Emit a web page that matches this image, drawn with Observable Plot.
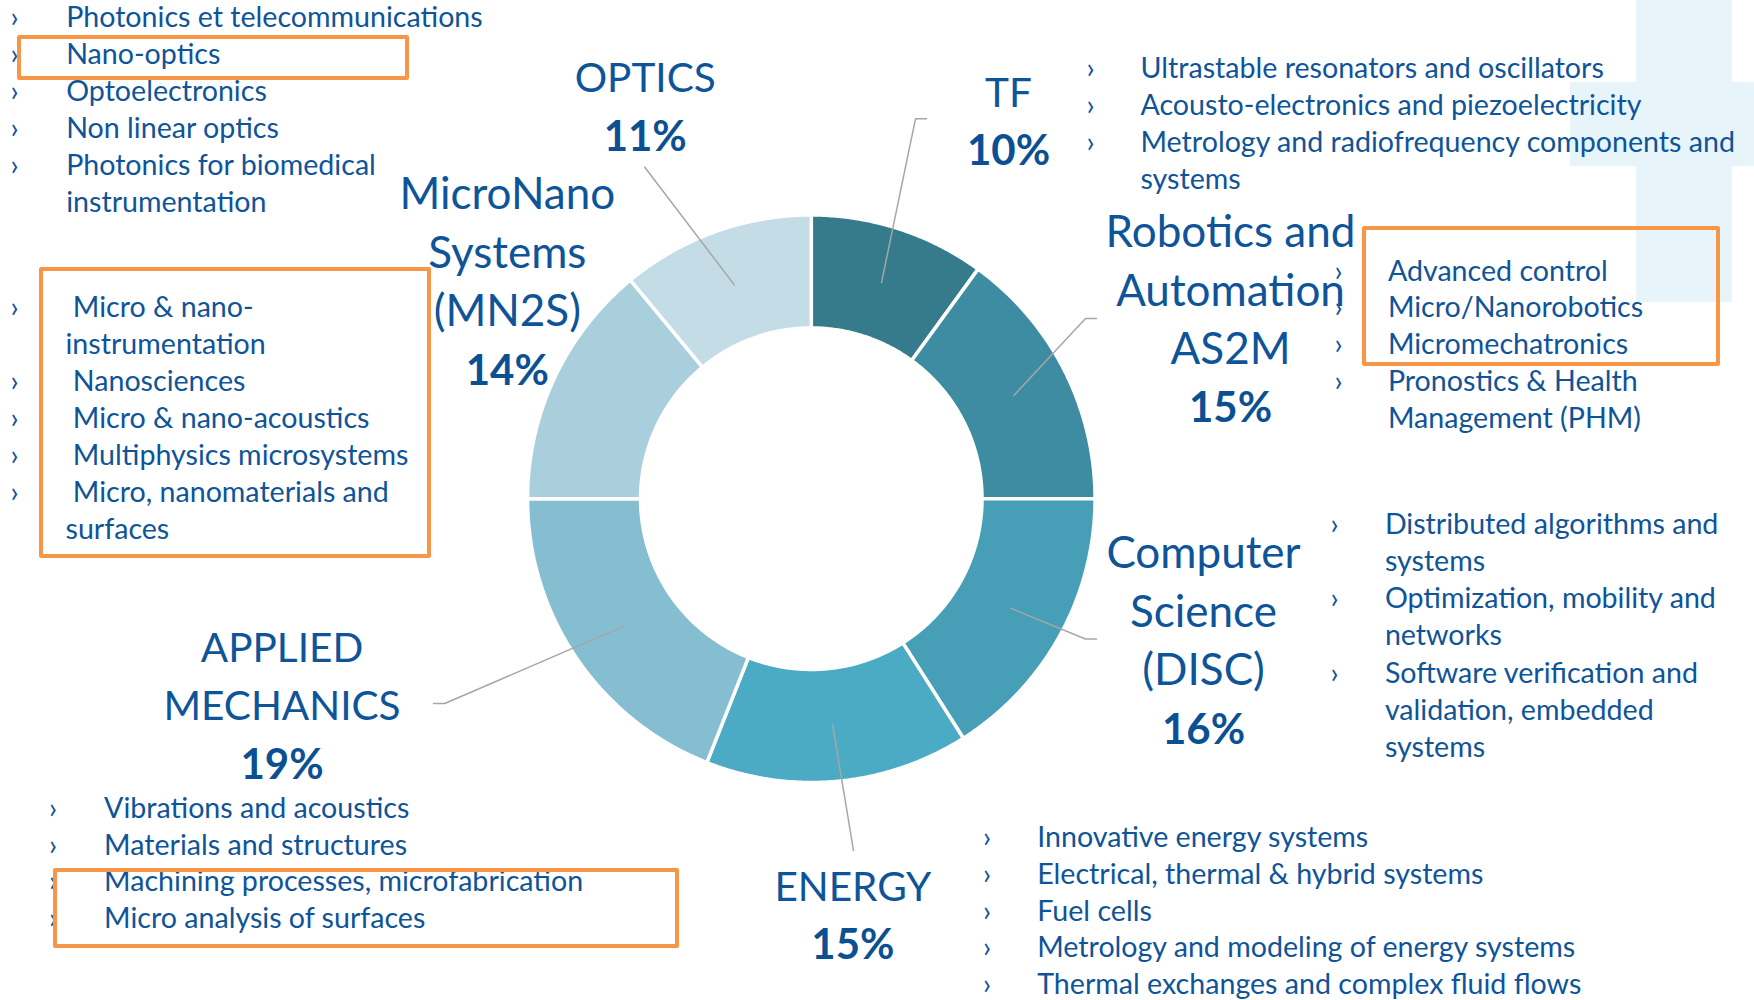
<!DOCTYPE html>
<html><head><meta charset="utf-8">
<script src="https://cdn.jsdelivr.net/npm/d3@7"></script>
<script src="https://cdn.jsdelivr.net/npm/@observablehq/plot@0.6"></script>
<style>
html,body{margin:0;padding:0;background:#fff;}
#wrap{position:relative;width:1754px;height:1000px;overflow:hidden;font-family:Lato,sans-serif;}
.deco{position:absolute;background:#e7f5fa;}
.box{position:absolute;border:4px solid #f79646;box-sizing:border-box;border-radius:2px;}
#chart{position:absolute;left:0;top:0;}
</style></head><body><div id="wrap"></div>
<script>
// ---------------- DATA ----------------
const categories = ["TF", "AS2M", "DISC", "ENERGY", "APPLIED MECHANICS", "MN2S", "OPTICS"];
const shares = [10, 15, 16, 15, 19, 14, 11];
const titles = [
  ["TF"],
  ["Robotics and", "Automation", "AS2M"],
  ["Computer", "Science", "(DISC)"],
  ["ENERGY"],
  ["APPLIED", "MECHANICS"],
  ["MicroNano", "Systems", "(MN2S)"],
  ["OPTICS"]
];
const topicsTF = [["Ultrastable resonators and oscillators"], ["Acousto-electronics and piezoelectricity"], ["Metrology and radiofrequency components and", "systems"]];
const topicsAS2M = [["Advanced control"], ["Micro/Nanorobotics"], ["Micromechatronics"], ["Pronostics & Health", "Management (PHM)"]];
const topicsDISC = [["Distributed algorithms and", "systems"], ["Optimization, mobility and", "networks"], ["Software verification and", "validation, embedded", "systems"]];
const topicsENERGY = [["Innovative energy systems"], ["Electrical, thermal & hybrid systems"], ["Fuel cells"], ["Metrology and modeling of energy systems"], ["Thermal exchanges and complex fluid flows"]];
const topicsAPPLIED = [["Vibrations and acoustics"], ["Materials and structures"], ["Machining processes, microfabrication"], ["Micro analysis of surfaces"]];
const topicsMN2S = [["\u00a0Micro & nano-", "instrumentation"], ["\u00a0Nanosciences"], ["\u00a0Micro & nano-acoustics"], ["\u00a0Multiphysics microsystems"], ["\u00a0Micro, nanomaterials and", "surfaces"]];
const topicsOPTICS = [["Photonics et telecommunications"], ["Nano-optics"], ["Optoelectronics"], ["Non linear optics"], ["Photonics for biomedical", "instrumentation"]];
const topicLists = [topicsTF, topicsAS2M, topicsDISC, topicsENERGY, topicsAPPLIED, topicsMN2S, topicsOPTICS];

// ---------------- LAYOUT / STYLE ----------------
const W = 1754, H = 1000;
const center = {x: 810.8, y: 498.2}, rOuter = 282, rInner = 172.5, gap = 3.5;
const sliceColors = ["#367b8c", "#3d8ca2", "#469fb6", "#4babc4", "#85bed0", "#a9cfdd", "#c3dce6"];
const textColor = "#0e5499", pctColor = "#0b5092", leaderColor = "#a6a6a6";
const pctSize = 42, listSize = 28.6, font = "Lato, 'Open Sans', sans-serif";
// title: [centerX, firstBaseline, lineStep, fontSize]; list: [bulletX, textX, firstBaseline, lineStep]; leader: extra points
const layout = [
  {title: [1008, 106, 58, 40.5], list: [1086, 1140, 77, 37], leader: [[915, 118.3], [926, 118.3]]},
  {title: [1230, 246.7, 58.3, 44], list: [1334, 1387.4, 280, 36.9], leader: [[1085, 318], [1096, 318]]},
  {title: [1203, 567.5, 58.6, 44], list: [1330, 1384.4, 533.3, 37.2], leader: [[1085, 638.5], [1096, 638.5]]},
  {title: [852.4, 900.5, 58, 40.5], list: [982.5, 1036.7, 846.7, 36.7], leader: [[853, 850]]},
  {title: [281.5, 661, 58.6, 40.5], list: [48.5, 103.6, 817.3, 36.8], leader: [[444.2, 703], [433, 703]]},
  {title: [506.8, 208.5, 58.5, 44], list: [10, 65, 316.7, 36.9], leader: null},
  {title: [644.7, 91.7, 58.3, 40.5], list: [10, 65.7, 26.7, 36.9], leader: [[644.3, 166.7]]}
];
const decoRects = [[1636, 0, 96, 302], [1570, 82, 184, 84]];
const boxRects = [[16.7, 35, 392.6, 45], [39.3, 266.7, 391.7, 291.6], [1361.6, 225.7, 358.1, 140], [52.7, 867.7, 626.8, 80.6]];

// ---------------- BUILD ----------------
const total = d3.sum(shares);
const angles = [];
let cum = 0;
shares.forEach(v => { angles.push([cum / total * 2 * Math.PI, (cum + v) / total * 2 * Math.PI]); cum += v; });

const slicePts = [];
categories.forEach((c, i) => {
  const [a0, a1] = angles[i];
  const n = Math.max(2, Math.ceil((a1 - a0) / (Math.PI / 360)));
  const ro = rOuter + gap / 2, ri = rInner - gap / 2;
  for (let k = 0; k <= n; k++) { const a = a0 + (a1 - a0) * k / n; slicePts.push({cat: c, x: center.x + ro * Math.sin(a), y: center.y - ro * Math.cos(a)}); }
  for (let k = n; k >= 0; k--) { const a = a0 + (a1 - a0) * k / n; slicePts.push({cat: c, x: center.x + ri * Math.sin(a), y: center.y - ri * Math.cos(a)}); }
  slicePts.push({cat: c, x: center.x + ro * Math.sin(a0), y: center.y - ro * Math.cos(a0)});
});

const leaderPts = [];
const rMid = (rOuter + rInner) / 2;
categories.forEach((c, i) => {
  const L = layout[i];
  if (!L.leader) return;
  const m = (angles[i][0] + angles[i][1]) / 2;
  leaderPts.push({cat: c, x: center.x + rMid * Math.sin(m), y: center.y - rMid * Math.cos(m)});
  L.leader.forEach(p => leaderPts.push({cat: c, x: p[0], y: p[1]}));
});

const titleRows = [], pctRows = [], listRows = [], bulletRows = [];
categories.forEach((c, i) => {
  const L = layout[i];
  titles[i].forEach((t, k) => titleRows.push({text: t, x: L.title[0], y: L.title[1] + k * L.title[2], size: L.title[3]}));
  pctRows.push({text: shares[i] + "%", x: L.title[0], y: L.title[1] + titles[i].length * L.title[2]});
  let line = 0;
  topicLists[i].forEach(item => {
    bulletRows.push({text: "\u203a", x: L.list[0], y: L.list[2] + line * L.list[3]});
    item.forEach(t => { listRows.push({text: t, x: L.list[1], y: L.list[2] + line * L.list[3]}); line++; });
  });
});

const wrap = document.getElementById("wrap");
decoRects.forEach(([l, t, w, h]) => {
  const d = document.createElement("div"); d.className = "deco";
  Object.assign(d.style, {left: l + "px", top: t + "px", width: w + "px", height: h + "px"});
  wrap.appendChild(d);
});

const plot = Plot.plot({
  width: W, height: H, margin: 0,
  x: {domain: [0, W], range: [0, W], axis: null},
  y: {domain: [0, H], range: [0, H], axis: null},
  color: {type: "ordinal", domain: categories, range: sliceColors},
  style: {background: "transparent", fontFamily: font},
  marks: [
    Plot.line(slicePts, {x: "x", y: "y", z: "cat", fill: "cat", stroke: "white", strokeWidth: gap, strokeLinejoin: "miter"}),
    Plot.line(leaderPts, {x: "x", y: "y", z: "cat", stroke: leaderColor, strokeWidth: 1.5}),
    Plot.text(titleRows, {x: "x", y: "y", text: "text", textAnchor: "middle", lineAnchor: "bottom", fontSize: "size", fill: textColor, fontFamily: font}),
    Plot.text(pctRows, {x: "x", y: "y", text: "text", textAnchor: "middle", lineAnchor: "bottom", fontSize: pctSize, fontWeight: "bold", fill: pctColor, fontFamily: font}),
    Plot.text(bulletRows, {x: "x", y: "y", text: "text", textAnchor: "start", lineAnchor: "bottom", fontSize: listSize, fill: textColor, fontFamily: font}),
    Plot.text(listRows, {x: "x", y: "y", text: "text", textAnchor: "start", lineAnchor: "bottom", fontSize: listSize, fill: textColor, fontFamily: font})
  ]
});
plot.id = "chart";
wrap.appendChild(plot);

boxRects.forEach(([l, t, w, h]) => {
  const d = document.createElement("div"); d.className = "box";
  Object.assign(d.style, {left: l + "px", top: t + "px", width: w + "px", height: h + "px"});
  wrap.appendChild(d);
});
</script></body></html>
